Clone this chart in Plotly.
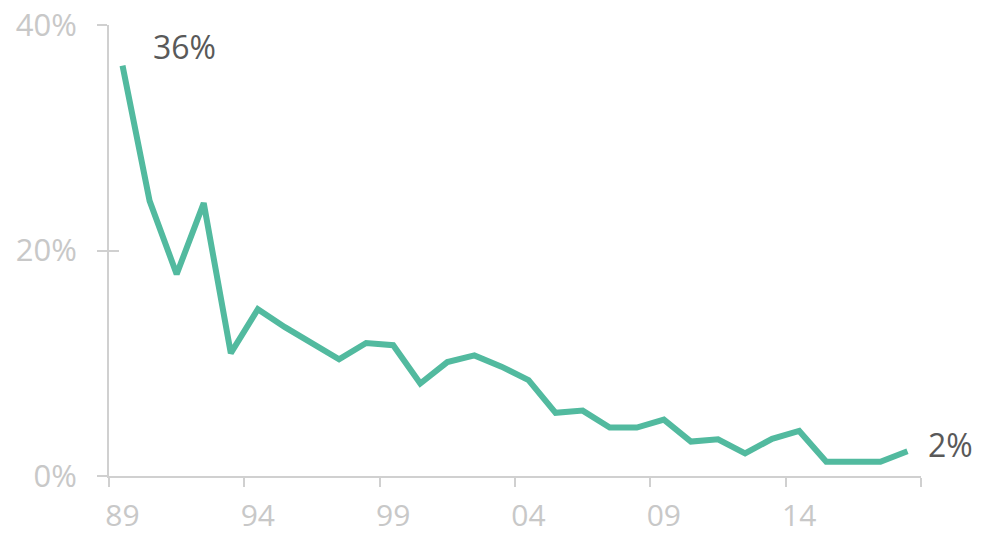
import plotly.graph_objects as go

years = [1989, 1990, 1991, 1992, 1993, 1994, 1995, 1996, 1997, 1998,
         1999, 2000, 2001, 2002, 2003, 2004, 2005, 2006, 2007, 2008,
         2009, 2010, 2011, 2012, 2013, 2014, 2015, 2016, 2017, 2018]
values = [36.4, 24.4, 17.9, 24.2, 10.9, 14.8, 13.2, 11.8, 10.35, 11.8,
          11.6, 8.2, 10.1, 10.7, 9.7, 8.5, 5.6, 5.8, 4.3, 4.3,
          5.0, 3.05, 3.25, 2.0, 3.3, 4.0, 1.27, 1.27, 1.27, 2.2]
label_years = [1989, 1994, 1999, 2004, 2009, 2014]
label_text = ["89", "94", "99", "04", "09", "14"]
y_ticks = [0, 20, 40]
y_text = ["0%", "20%", "40%"]

idx = list(range(len(years)))
label_idx = [years.index(y) for y in label_years]
boundaries = [i - 0.5 for i in label_idx] + [len(years) - 0.5]

LINE = "#52BA9F"
AXIS = "#D0D0D0"
TICKFONT = "#C8C8C8"
LABEL = "#595959"
FONT = "Open Sans"

fig = go.Figure()
fig.add_trace(go.Scatter(
    x=idx, y=values, mode="lines",
    line=dict(color=LINE, width=6, shape="linear"),
    hoverinfo="skip", showlegend=False,
))
# invisible trace to activate second y axis (inside ticks -> crossing ticks)
fig.add_trace(go.Scatter(x=[idx[0]], y=[values[0]], yaxis="y2", mode="markers",
                         marker=dict(opacity=0), showlegend=False, hoverinfo="skip"))

fig.add_annotation(x=idx[0], y=values[0], text=f"{round(values[0])}%",
                   showarrow=False, xanchor="left", yanchor="middle",
                   xshift=28, yshift=19, font=dict(family=FONT, size=32, color=LABEL))
fig.add_annotation(x=idx[-1], y=values[-1], text=f"{round(values[-1])}%",
                   showarrow=False, xanchor="left", yanchor="middle",
                   xshift=19, yshift=7, font=dict(family=FONT, size=32, color=LABEL))

# page body has an 8px default margin: shrink the figure so it fits the window
fig.update_layout(
    width=987, height=526,
    margin=dict(l=101, r=74, t=17, b=58, autoexpand=False),
    paper_bgcolor="white", plot_bgcolor="white",
    font=dict(family=FONT),
    xaxis=dict(
        range=[-0.5, len(years) - 0.5], showgrid=False, zeroline=False,
        showline=True, linecolor=AXIS, linewidth=2, automargin=False,
        tickmode="array", tickvals=label_idx, ticktext=label_text,
        ticks="", tickfont=dict(family=FONT, size=30, color=TICKFONT),
        ticklabelstandoff=12, ticklabeloverflow="allow",
        minor=dict(tickmode="array", tickvals=boundaries, ticks="outside",
                   ticklen=9, tickwidth=2, tickcolor=AXIS, showgrid=False),
    ),
    yaxis=dict(
        range=[0, 40], showgrid=False, zeroline=False, automargin=False,
        showline=True, linecolor=AXIS, linewidth=2,
        tickmode="array", tickvals=y_ticks, ticktext=y_text,
        ticks="outside", ticklen=10, tickwidth=2, tickcolor=AXIS,
        tickfont=dict(family=FONT, size=31, color=TICKFONT),
        ticklabelstandoff=14, ticklabeloverflow="allow",
    ),
    yaxis2=dict(
        range=[0, 40], overlaying="y", side="left", showgrid=False,
        zeroline=False, showline=False, tickmode="array", tickvals=y_ticks,
        ticks="inside", ticklen=10, tickwidth=2, tickcolor=AXIS,
        showticklabels=False, automargin=False,
    ),
)

fig.write_html("out.html")
